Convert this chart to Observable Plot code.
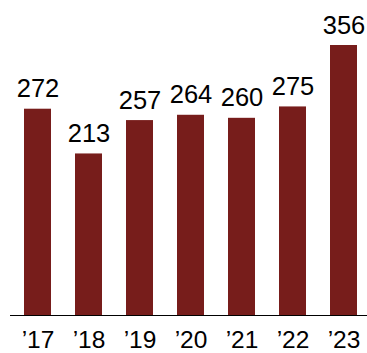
<!DOCTYPE html>
<html>
<head>
<meta charset="utf-8">
<script src="https://cdn.jsdelivr.net/npm/d3@7"></script>
<script src="https://cdn.jsdelivr.net/npm/@observablehq/plot@0.6"></script>
<style>
  html, body { margin: 0; padding: 0; background: #fff; }
  #chart svg { display: block; font-family: "Liberation Sans", Arial, sans-serif; }
</style>
</head>
<body>
<div id="chart"></div>
<script>
const years = ["’17", "’18", "’19", "’20", "’21", "’22", "’23"];
const values = [272, 213, 257, 264, 260, 275, 356];

const data = years.map((year, i) => ({year, value: values[i]}));

const chart = Plot.plot({
  width: 367,
  height: 353,
  marginTop: 45,
  marginBottom: 38,
  marginLeft: 10,
  marginRight: 0,
  style: {fontFamily: "'Liberation Sans', Arial, sans-serif", background: "#fff"},
  x: {domain: years, paddingInner: 0.476, paddingOuter: 0.204, align: 0.571, label: null},
  y: {domain: [0, 356], axis: null},
  marks: [
    Plot.barY(data, {x: "year", y: "value", fill: "#771d1b"}),
    Plot.ruleY([0], {stroke: "#000", strokeWidth: 1}),
    Plot.text(data, {x: "year", y: "value", text: d => String(d.value), lineAnchor: "bottom", dy: -12, fontSize: 25.5, fill: "#000"}),
    Plot.axisX({tickSize: 0, tickPadding: 15, fontSize: 24.5, label: null, color: "#000"})
  ]
});
document.getElementById("chart").appendChild(chart);
</script>
</body>
</html>
